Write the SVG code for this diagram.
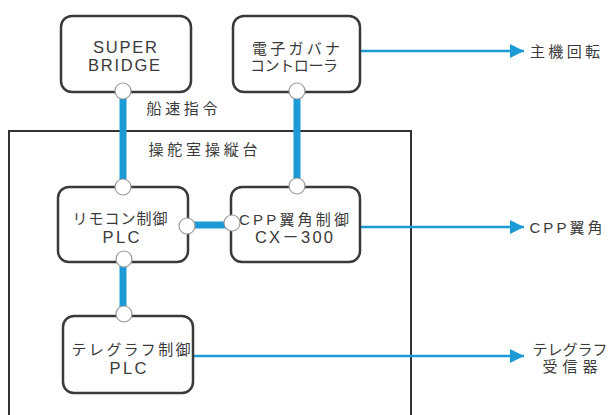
<svg xmlns="http://www.w3.org/2000/svg" width="612" height="415" viewBox="0 0 612 415">
<defs>
<style>
.box{fill:#fff;stroke:#3a3a3a;stroke-width:2.5}
.frame{fill:none;stroke:#333;stroke-width:2}
.bus{stroke:#1c9ad6;stroke-width:7;fill:none}
.sig{stroke:#1c9ad6;stroke-width:2.5;fill:none}
.port{fill:#fff;stroke:#9a9a9a;stroke-width:1.2}
text{font-family:"Liberation Sans","Noto Sans CJK JP",sans-serif;font-size:15px;fill:#3a3a3a;text-anchor:middle}
text.lat{font-size:16.5px}
</style>
<marker id="arr" markerUnits="userSpaceOnUse" markerWidth="16" markerHeight="16" viewBox="0 0 16 16" refX="14" refY="8" orient="auto">
<path d="M0 1 L14 8 L0 15 Z" fill="#1c9ad6"/>
</marker>
</defs>
<g id="frame">
<path class="frame" d="M9 420 V131 H411 V420"/>
<text x="203" y="155" textLength="109" lengthAdjust="spacing">操舵室操縦台</text>
</g>
<g id="connectors">
<line class="bus" x1="123" y1="92" x2="123" y2="187"/>
<line class="bus" x1="297" y1="92" x2="297" y2="187"/>
<line class="bus" x1="188" y1="225" x2="232" y2="225"/>
<line class="bus" x1="123" y1="261" x2="123" y2="315"/>
<line class="sig" x1="360" y1="51" x2="524" y2="51" marker-end="url(#arr)"/>
<line class="sig" x1="360" y1="227" x2="524" y2="227" marker-end="url(#arr)"/>
<line class="sig" x1="193" y1="356" x2="524" y2="356" marker-end="url(#arr)"/>
<text x="182" y="114" textLength="71" lengthAdjust="spacing">船速指令</text>
</g>
<g id="super-bridge">
<rect class="box" x="61" y="16" width="130" height="76" rx="11"/>
<text class="lat" x="125" y="53" textLength="64" lengthAdjust="spacing">SUPER</text>
<text class="lat" x="124" y="71" textLength="72" lengthAdjust="spacing">BRIDGE</text>
<circle class="port" cx="123" cy="91" r="8"/>
</g>
<g id="governor">
<rect class="box" x="233" y="16" width="127" height="76" rx="11"/>
<text x="296" y="54" textLength="88" lengthAdjust="spacing">電子ガバナ</text>
<text x="294" y="71" textLength="88" lengthAdjust="spacing">コントローラ</text>
<circle class="port" cx="297" cy="91" r="8"/>
</g>
<g id="remocon-plc">
<rect class="box" x="58" y="187" width="130" height="75" rx="11"/>
<text x="120" y="224" textLength="95" lengthAdjust="spacing">リモコン制御</text>
<text class="lat" x="121" y="243" textLength="37" lengthAdjust="spacing">PLC</text>
<circle class="port" cx="123" cy="187" r="8"/>
<circle class="port" cx="187" cy="226" r="8"/>
<circle class="port" cx="124" cy="259" r="8"/>
</g>
<g id="cpp-control">
<rect class="box" x="231" y="187" width="129" height="75" rx="11"/>
<text x="294" y="225" textLength="110" lengthAdjust="spacing">CPP翼角制御</text>
<text class="lat" x="294" y="243" textLength="78" lengthAdjust="spacing">CX－300</text>
<circle class="port" cx="297" cy="186" r="8"/>
<circle class="port" cx="232" cy="223" r="8"/>
</g>
<g id="telegraph-plc">
<rect class="box" x="63" y="316" width="130" height="77" rx="11"/>
<text x="131" y="355" textLength="119" lengthAdjust="spacing">テレグラフ制御</text>
<text class="lat" x="128" y="374" textLength="37" lengthAdjust="spacing">PLC</text>
<circle class="port" cx="124" cy="314" r="8"/>
</g>
<g id="out-engine">
<text x="565" y="57" textLength="70" lengthAdjust="spacing">主機回転</text>
</g>
<g id="out-cpp">
<text x="566" y="233" textLength="73" lengthAdjust="spacing">CPP翼角</text>
</g>
<g id="out-telegraph">
<text x="570" y="355" textLength="75" lengthAdjust="spacing">テレグラフ</text>
<text x="570" y="372" textLength="55" lengthAdjust="spacing">受信器</text>
</g>
</svg>
